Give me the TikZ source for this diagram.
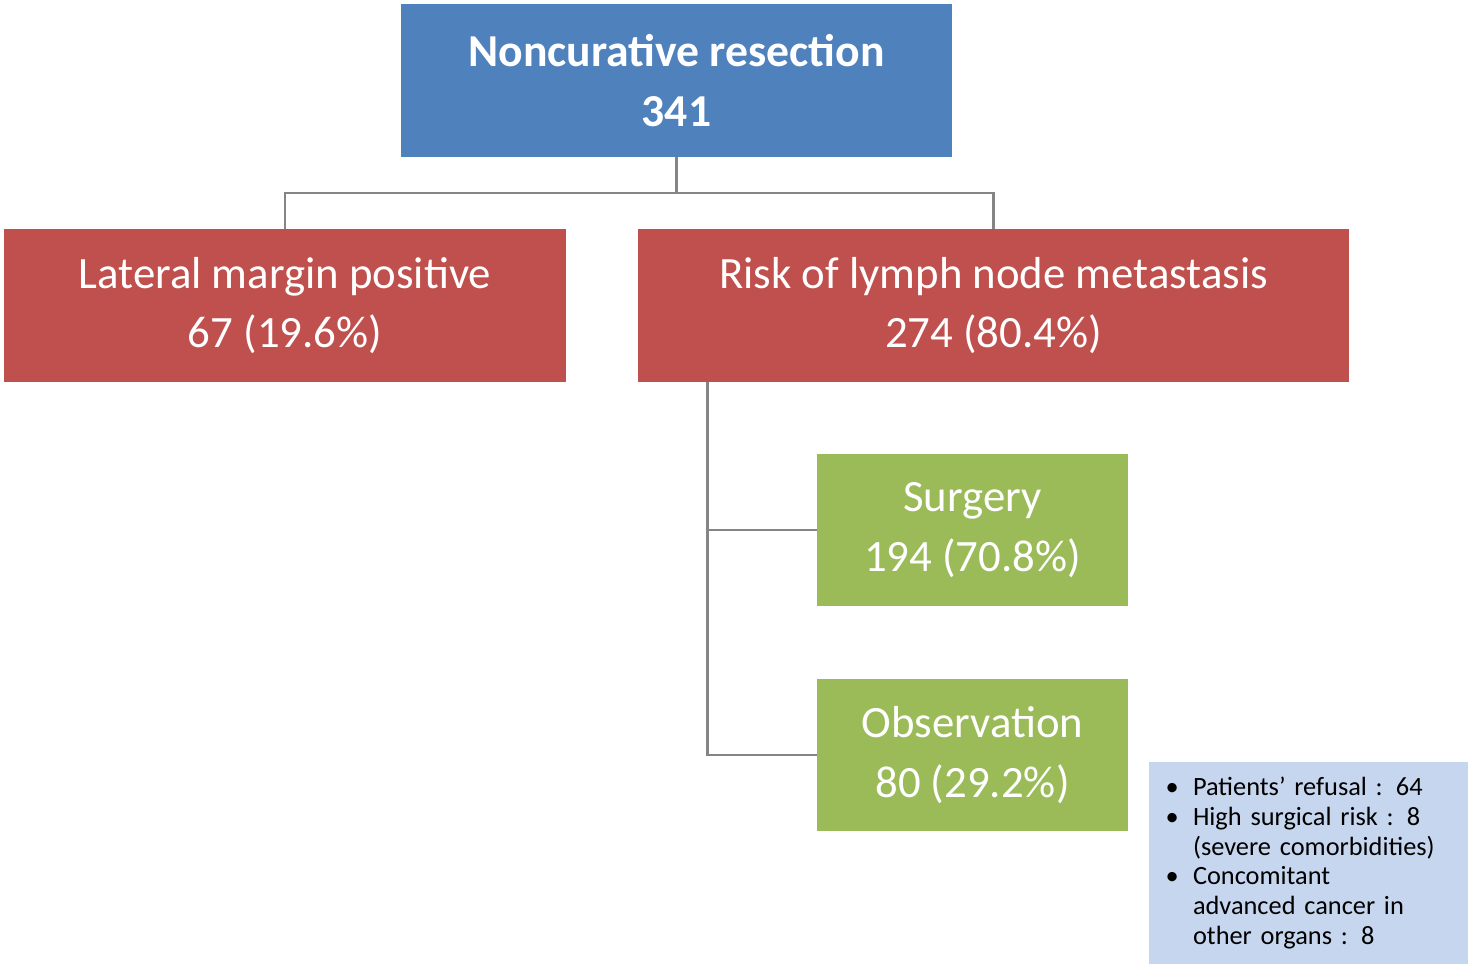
\documentclass[tikz,border=0pt]{standalone}
\usepackage{fontspec}
\setmainfont{Carlito}
\usepackage{tikz}

\definecolor{topblue}{HTML}{4F81BD}
\definecolor{armred}{HTML}{C0504D}
\definecolor{subgreen}{HTML}{9BBB59}
\definecolor{noteblue}{HTML}{C6D6EE}
\definecolor{linkgray}{HTML}{858585}

\newcommand{\itm}{\makebox[0.48cm][l]{\kern-2pt\textbullet}}
\newcommand{\noitm}{\hspace*{0.48cm}}

\begin{document}
\begin{tikzpicture}[x=0.02cm,y=-0.02cm,
	box/.style={inner sep=0pt,minimum height=3.06cm,text=white,align=center,
		font=\fontsize{25.5}{34}\selectfont},
	link/.style={draw=linkgray,line width=1.7pt}]
	\useasboundingbox (0,0) rectangle (1468,969);

	\node[box,fill=topblue,minimum width=11.02cm,
		font=\bfseries\fontsize{26}{34}\selectfont] (top) at (676.5,80.5) {Noncurative resection\\341};
	\node[box,fill=armred,minimum width=11.24cm] (lat) at (285,305.5) {Lateral margin positive\\67 (19.6\%)};
	\node[box,fill=armred,minimum width=14.22cm] (risk) at (993.5,305.5) {Risk of lymph node metastasis\\274 (80.4\%)};
	\node[box,fill=subgreen,minimum width=6.22cm,minimum height=3.04cm] (surg) at (972.5,530) {Surgery\\194 (70.8\%)};
	\node[box,fill=subgreen,minimum width=6.22cm,minimum height=3.04cm] (obs) at (972.5,755) {Observation\\80 (29.2\%)};
	\node[fill=noteblue,inner xsep=0.4cm,inner ysep=0pt,minimum height=4.04cm,text width=5.58cm,
		align=left,font=\fontsize{15}{17}\selectfont] (why) at (1308.5,863)
		{\itm Patients’ refusal : 64\\ \itm High surgical risk : 8\\ \noitm(severe comorbidities)\\
		 \itm Concomitant\\ \noitm advanced cancer in\\ \noitm other organs : 8};

	\coordinate (split) at (676.5,193);
	\coordinate (trunk) at (707,382);
	\draw[link] (top.south) -- (split);
	\draw[link] (lat.north) |- (split) -| (risk.north);
	\draw[link] (trunk) |- (surg.west);
	\draw[link] (trunk) |- (obs.west);
\end{tikzpicture}
\end{document}
